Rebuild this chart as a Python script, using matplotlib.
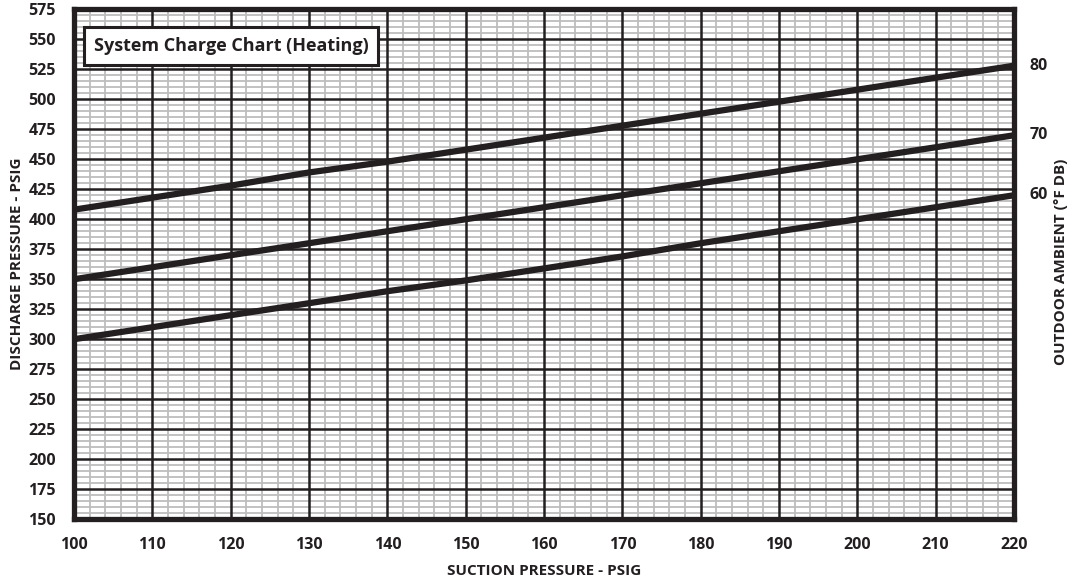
import matplotlib
matplotlib.use('Agg')
import matplotlib.pyplot as plt
from matplotlib.ticker import MultipleLocator

plt.rcParams['font.family'] = ['Open Sans', 'DejaVu Sans']

# suction pressure (psig)
suction = [100, 110, 120, 130, 140, 150, 160, 170, 180, 190, 200, 210, 220]
# discharge pressure for each outdoor ambient (F DB)
discharge_80 = [408, 418, 428, 439, 448, 458, 468, 478, 488, 498, 508, 518, 528]
discharge_70 = [350, 360, 370, 380, 390, 400, 410, 420, 430, 440, 450, 460, 470]
discharge_60 = [300, 310, 320, 330, 340, 349, 359, 369, 380, 390, 400, 410, 420]
ambient_labels = ['80', '70', '60']
x_major = list(range(100, 221, 10))
y_major = list(range(150, 576, 25))

ink = '#231f20'

fig = plt.figure(figsize=(10.79, 5.82), dpi=100)
ax = fig.add_axes([0.0686, 0.108, 0.8712, 0.876])

ax.set_xlim(100, 220)
ax.set_ylim(150, 575)
ax.set_xticks(x_major)
ax.set_yticks(y_major)
ax.xaxis.set_minor_locator(MultipleLocator(2))
ax.yaxis.set_minor_locator(MultipleLocator(5))

# minor grid underneath, major grid drawn on top of it
ax.grid(which='minor', color='#bdbdbd', linewidth=1.3)
ax.set_axisbelow(True)
for xv in x_major:
    ax.axvline(xv, color=ink, linewidth=1.8, zorder=0.8)
for yv in y_major:
    ax.axhline(yv, color=ink, linewidth=1.8, zorder=0.8)

for s in ax.spines.values():
    s.set_linewidth(3.8)
    s.set_color(ink)

ax.tick_params(which='both', length=0)
ax.tick_params(axis='both', labelsize=11.5, pad=13, labelcolor=ink)
for lab in ax.get_xticklabels() + ax.get_yticklabels():
    lab.set_fontweight('bold')

for ys in (discharge_80, discharge_70, discharge_60):
    ax.plot(suction, ys, color=ink, linewidth=4.5, solid_capstyle='butt', zorder=2)

# right side ambient labels at line ends
for ys, lab in zip((discharge_80, discharge_70, discharge_60), ambient_labels):
    ax.annotate(lab, xy=(suction[-1], ys[-1]), xytext=(11, 0), textcoords='offset points',
                ha='left', va='center', fontsize=11.5, fontweight='bold', color=ink,
                annotation_clip=False)

ax.set_xlabel('SUCTION PRESSURE - PSIG', fontsize=11, fontweight='bold', color=ink, labelpad=8)
ax.set_ylabel('DISCHARGE PRESSURE - PSIG', fontsize=11, fontweight='bold', color=ink, labelpad=3)
fig.text(0.983, 0.55, 'OUTDOOR AMBIENT (°F DB)', rotation=90, ha='center', va='center',
         fontsize=11, fontweight='bold', color=ink)

ax.text(0.021, 0.928, 'System Charge Chart (Heating)', transform=ax.transAxes,
        ha='left', va='center', fontsize=13, fontweight='bold', color=ink, zorder=5,
        bbox=dict(boxstyle='square,pad=0.55', facecolor='white', edgecolor=ink, linewidth=2.2))

fig.savefig('out.png', dpi=100)
